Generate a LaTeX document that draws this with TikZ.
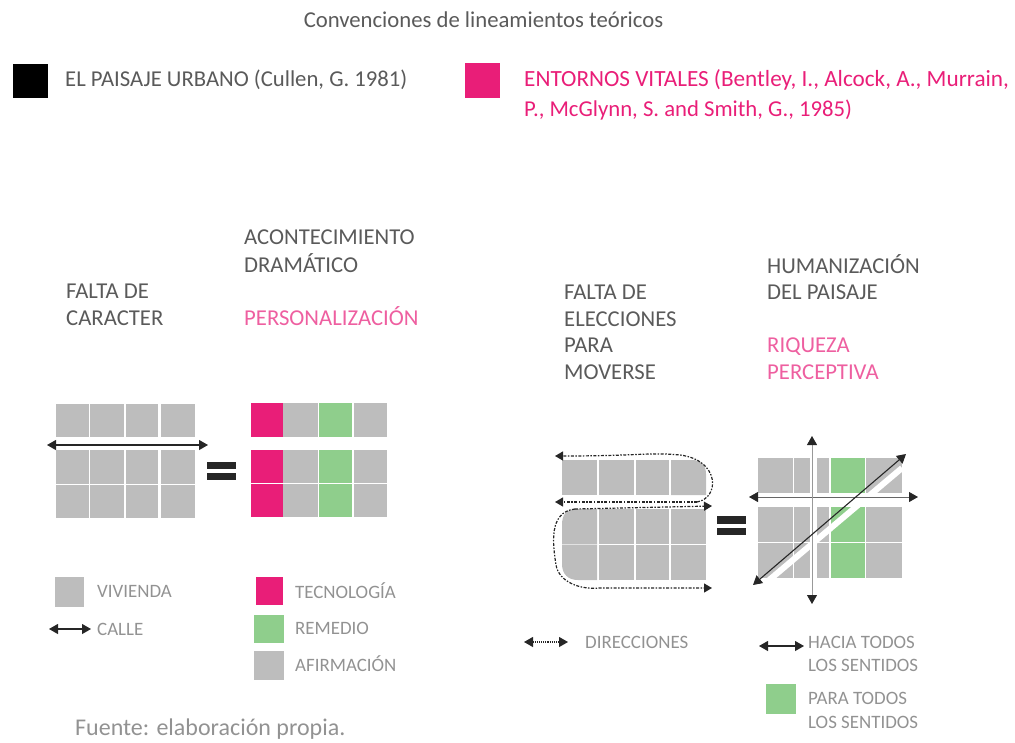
\documentclass[tikz,border=0pt]{standalone}
\usepackage{fontspec}
\setmainfont{Carlito}
\usetikzlibrary{arrows.meta}
\definecolor{casa}{HTML}{BDBDBD}
\definecolor{rosa}{HTML}{E91E78}
\definecolor{verde}{HTML}{8FCE8C}
\definecolor{tinta}{HTML}{5A5A5A}
\definecolor{suave}{HTML}{929292}
\definecolor{rosaclaro}{HTML}{EE5FA0}
\tikzset{
  casa/.style={fill=casa},
  rosa/.style={fill=rosa},
  verde/.style={fill=verde},
  texto/.style={anchor=west,inner sep=0pt,font=\fontsize{22.7}{27}\selectfont,text=tinta},
  leyenda/.style={anchor=west,inner sep=0pt,font=\fontsize{18.9}{22}\selectfont,text=suave},
  doble/.style={line width=1.1pt,draw=black!85,{Triangle[length=9pt,width=10pt,color=black!85]}-{Triangle[length=9pt,width=10pt,color=black!85]}},
  punteada/.style={line width=1.2pt,dash pattern=on 3pt off 1.5pt on 1.5pt off 1.5pt,draw=black!85,-{Triangle[length=8pt,width=9pt,color=black!85]}}
}
\begin{document}
\begin{tikzpicture}[x=1pt,y=-1pt]
  \useasboundingbox (0,0) rectangle (1015,742);
  % cabecera
  \node [ texto, anchor=center ] (titulo) at (483.5,20) { Convenciones de lineamientos teóricos };
  \fill [ black ] (13,64) rectangle (48,98);
  \fill [ rosa ] (465,63) rectangle (500,98);
  \node [ texto ] (cullen) at (65,80) { EL PAISAJE URBANO (Cullen, G. 1981) };
  \node [ texto, text=rosa, font=\fontsize{23.2}{27}\selectfont ] (bentley1) at (524,80) { ENTORNOS VITALES (Bentley, I., Alcock, A., Murrain, };
  \node [ texto, text=rosa ] (bentley2) at (524,110) { P., McGlynn, S. and Smith, G., 1985) };
  % titulos
  \node [ texto ] (falta1) at (66,291) { FALTA DE };
  \node [ texto ] (falta2) at (66,318) { CARACTER };
  \node [ texto ] (acont1) at (244,237) { ACONTECIMIENTO };
  \node [ texto ] (acont2) at (244,263) { DRAMÁTICO };
  \node [ texto, text=rosaclaro ] (perso) at (244,316) { PERSONALIZACIÓN };
  \node [ texto ] (elec1) at (564,292) { FALTA DE };
  \node [ texto ] (elec2) at (564,319) { ELECCIONES };
  \node [ texto ] (elec3) at (564,345) { PARA };
  \node [ texto ] (elec4) at (564,372) { MOVERSE };
  \node [ texto ] (human1) at (767,264) { HUMANIZACIÓN };
  \node [ texto ] (human2) at (767,292) { DEL PAISAJE };
  \node [ texto, text=rosaclaro ] (riqueza1) at (767,347) { RIQUEZA };
  \node [ texto, text=rosaclaro ] (riqueza2) at (767,372) { PERCEPTIVA };
  % calle sin caracter
  \fill [ casa ] (56,404) rectangle (89,437);
  \fill [ casa ] (90,404) rectangle (124,437);
  \fill [ casa ] (126,404) rectangle (158,437);
  \fill [ casa ] (161,404) rectangle (195,437);
  \fill [ casa ] (56,450) rectangle (89,484);
  \fill [ casa ] (90,450) rectangle (124,484);
  \fill [ casa ] (126,450) rectangle (158,484);
  \fill [ casa ] (161,450) rectangle (195,484);
  \fill [ casa ] (56,485) rectangle (89,518);
  \fill [ casa ] (90,485) rectangle (124,518);
  \fill [ casa ] (126,485) rectangle (158,518);
  \fill [ casa ] (161,485) rectangle (195,518);
  \coordinate (calleA) at (47,445);
  \coordinate (calleB) at (208,445);
  \draw [ doble ] (calleA)--(calleB);
  \fill [ black!85 ] (207,462) rectangle (236,469);
  \fill [ black!85 ] (207,473) rectangle (236,480);
  % calle con acontecimiento
  \fill [ rosa ] (251,403) rectangle (283,437);
  \fill [ casa ] (283,403) rectangle (318,437);
  \fill [ verde ] (319,403) rectangle (352,437);
  \fill [ casa ] (354,403) rectangle (387,437);
  \fill [ rosa ] (251,450) rectangle (283,483);
  \fill [ casa ] (283,450) rectangle (318,483);
  \fill [ verde ] (319,450) rectangle (352,483);
  \fill [ casa ] (354,450) rectangle (387,483);
  \fill [ rosa ] (251,484) rectangle (283,517);
  \fill [ casa ] (283,484) rectangle (318,517);
  \fill [ verde ] (319,484) rectangle (352,517);
  \fill [ casa ] (354,484) rectangle (387,517);
  % sin elecciones
  \fill [ casa ] (562,460) rectangle (597,495);
  \fill [ casa ] (599,460) rectangle (634,495);
  \fill [ casa ] (636,460) rectangle (669,495);
  \fill [ casa ] (671,460)--(692,460) .. controls (702,460) and (706,466) .. (706,474)--(706,495)--(671,495)--cycle;
  \fill [ casa ] (562,525) .. controls (562,515) and (566,509) .. (576,509)--(597,509)--(597,544)--(562,544)--cycle;
  \fill [ casa ] (599,509) rectangle (634,544);
  \fill [ casa ] (636,509) rectangle (669,544);
  \fill [ casa ] (671,509) rectangle (706,544);
  \fill [ casa ] (562,544.5)--(597,544.5)--(597,580)--(578,580) .. controls (568,580) and (562,574) .. (562,564)--cycle;
  \fill [ casa ] (599,544.5) rectangle (634,580);
  \fill [ casa ] (636,544.5) rectangle (669,580);
  \fill [ casa ] (671,544.5) rectangle (706,580);
  \coordinate (vueltaA) at (697,502);
  \coordinate (vueltaB) at (555,456);
  \coordinate (vueltaC) at (555,502);
  \coordinate (vueltaD) at (712,506);
  \coordinate (vueltaE) at (575,509);
  \coordinate (vueltaF) at (712,588);
  \draw [ punteada ] (vueltaA) .. controls (720,498) and (720,460) .. (680,455) .. controls (650,452) and (640,456) .. (vueltaB);
  \draw [ punteada ] (vueltaA)--(vueltaC);
  \draw [ punteada ] (vueltaE)--(vueltaD);
  \draw [ punteada ] (vueltaE) .. controls (548,512) and (553,545) .. (556,565) .. controls (559,582) and (580,590) .. (600,588)--(vueltaF);
  \fill [ black!85 ] (717,516) rectangle (746,524);
  \fill [ black!85 ] (717,528) rectangle (746,535);
  % humanizacion
  \fill [ casa ] (758,458) rectangle (793,493);
  \fill [ casa ] (794,458) rectangle (829,493);
  \fill [ verde ] (831,458) rectangle (865,493);
  \fill [ casa ] (866,458) rectangle (902,493);
  \fill [ casa ] (758,507) rectangle (793,542);
  \fill [ casa ] (794,507) rectangle (829,542);
  \fill [ verde ] (831,507) rectangle (865,542);
  \fill [ casa ] (866,507) rectangle (902,542);
  \fill [ casa ] (758,543) rectangle (793,578);
  \fill [ casa ] (794,543) rectangle (829,578);
  \fill [ verde ] (831,543) rectangle (865,578);
  \fill [ casa ] (866,543) rectangle (902,578);
  \fill [ white ] (810,458) rectangle (817,578);
  \draw [ white, line width=6pt ] (768,581)--(902,468);
  \coordinate (izq) at (749,497);
  \coordinate (der) at (918,497);
  \coordinate (arriba) at (812,436);
  \coordinate (abajo) at (812,604);
  \coordinate (surO) at (753,585);
  \coordinate (norE) at (906,454);
  \draw [ doble, draw=black!60, line width=0.8pt ] (izq)--(der);
  \draw [ doble, draw=black!40, line width=0.8pt ] (arriba)--(abajo);
  \draw [ doble ] (surO)--(norE);
  % leyenda izquierda
  \fill [ casa ] (55,577) rectangle (84,607);
  \node [ leyenda ] (vivienda) at (97,591) { VIVIENDA };
  \coordinate (calleC) at (49,629);
  \coordinate (calleD) at (91,629);
  \draw [ doble ] (calleC)--(calleD);
  \node [ leyenda ] (calle) at (97,629) { CALLE };
  \fill [ rosa ] (256,577) rectangle (283,605);
  \node [ leyenda ] (tecnologia) at (295,591) { TECNOLOGÍA };
  \fill [ verde ] (254,615) rectangle (284,643);
  \node [ leyenda ] (remedio) at (295,628) { REMEDIO };
  \fill [ casa ] (254,651) rectangle (284,680);
  \node [ leyenda ] (afirmacion) at (295,664) { AFIRMACIÓN };
  \node [ texto, text=suave, font=\fontsize{24}{28}\selectfont ] (fuente) at (75,729.5) { Fuente: elaboración propia. };
  % leyenda derecha
  \coordinate (dirA) at (524,642);
  \coordinate (dirB) at (568,642);
  \draw [ doble, densely dotted ] (dirA)--(dirB);
  \node [ leyenda ] (direcciones) at (585,642) { DIRECCIONES };
  \coordinate (haciaA) at (759,646);
  \coordinate (haciaB) at (804,646);
  \draw [ doble ] (haciaA)--(haciaB);
  \node [ leyenda ] (hacia1) at (808,642) { HACIA TODOS };
  \node [ leyenda ] (hacia2) at (808,665) { LOS SENTIDOS };
  \fill [ verde ] (766,684) rectangle (796,714);
  \node [ leyenda ] (para1) at (808,698) { PARA TODOS };
  \node [ leyenda ] (para2) at (808,722) { LOS SENTIDOS };
\end{tikzpicture}
\end{document}
